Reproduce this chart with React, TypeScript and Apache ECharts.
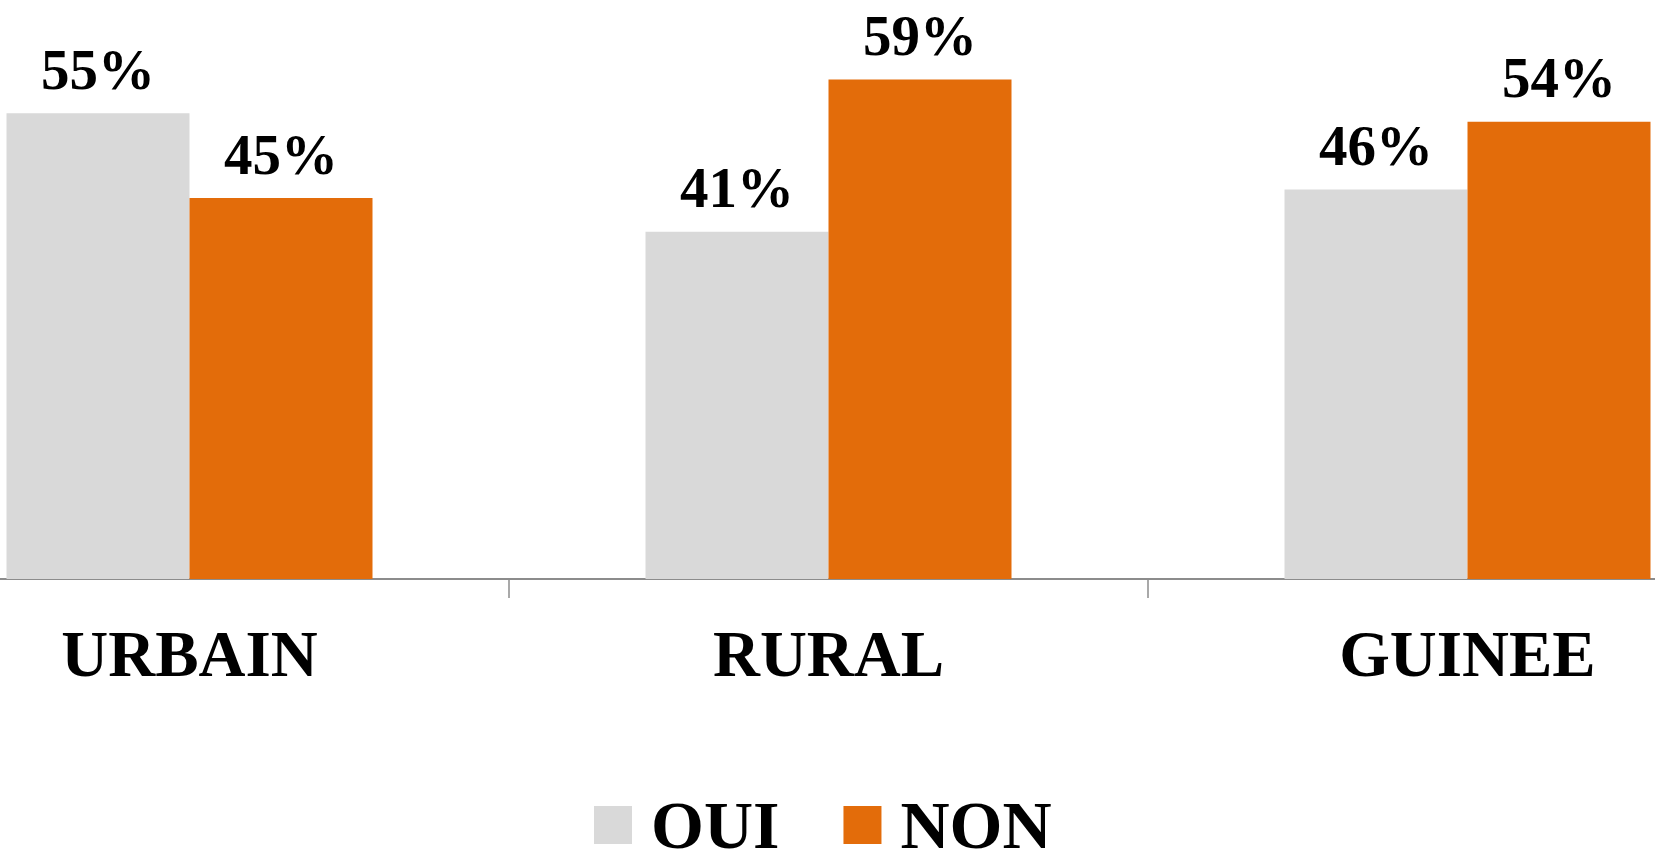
import React, { useEffect, useRef } from "react";
import * as echarts from "echarts";

const categories = ["URBAIN", "RURAL", "GUINEE"];
const seriesNames = ["OUI", "NON"];
const ouiValues = [55, 41, 46];
const nonValues = [45, 59, 54];

const FONT = "'Liberation Serif', 'DejaVu Serif', serif";

export default function App() {
  const ref = useRef<HTMLDivElement>(null);
  useEffect(() => {
    if (!ref.current) return;
    const chart = echarts.init(ref.current, null, { renderer: "svg" });
    const labelStyle = {
      show: true,
      position: "top" as const,
      distance: 18,
      formatter: "{c}%",
      color: "#000",
      fontFamily: FONT,
      fontWeight: "bold" as const,
      fontSize: 57,
      lineHeight: 52,
    };
    chart.setOption({
      animation: false,
      backgroundColor: "#fff",
      grid: { left: -130, right: -132, top: 71, bottom: 285, outerBoundsMode: "none", containLabel: false },
      legend: {
        data: seriesNames,
        bottom: 0,
        left: 589,
        icon: "rect",
        itemWidth: 38,
        itemHeight: 38,
        itemGap: 64,
        textStyle: {
          fontFamily: FONT,
          fontWeight: "bold",
          fontSize: 68,
          lineHeight: 62,
          color: "#000",
          padding: [0, 0, 0, 14],
        },
      },
      xAxis: {
        type: "category",
        data: categories,
        axisLine: { show: true, lineStyle: { color: "#8c8c8c", width: 2 } },
        axisTick: { show: true, length: 19, lineStyle: { color: "#8c8c8c", width: 1.5 } },
        axisLabel: {
          margin: 42,
          color: "#000",
          fontFamily: FONT,
          fontWeight: "bold",
          fontSize: 65,
        },
      },
      yAxis: {
        type: "value",
        min: 0,
        max: 60,
        show: false,
        splitLine: { show: false },
      },
      series: [
        {
          name: seriesNames[0],
          type: "bar",
          data: ouiValues,
          barWidth: 183,
          barGap: "0%",
          itemStyle: { color: "#D9D9D9" },
          label: labelStyle,
        },
        {
          name: seriesNames[1],
          type: "bar",
          data: nonValues,
          barWidth: 183,
          barGap: "0%",
          itemStyle: { color: "#E36C0A" },
          label: labelStyle,
        },
      ],
    });
    return () => chart.dispose();
  }, []);
  return (
    <div
      ref={ref}
      style={{ position: "fixed", left: 0, top: 0, width: 1655, height: 864 }}
    />
  );
}
